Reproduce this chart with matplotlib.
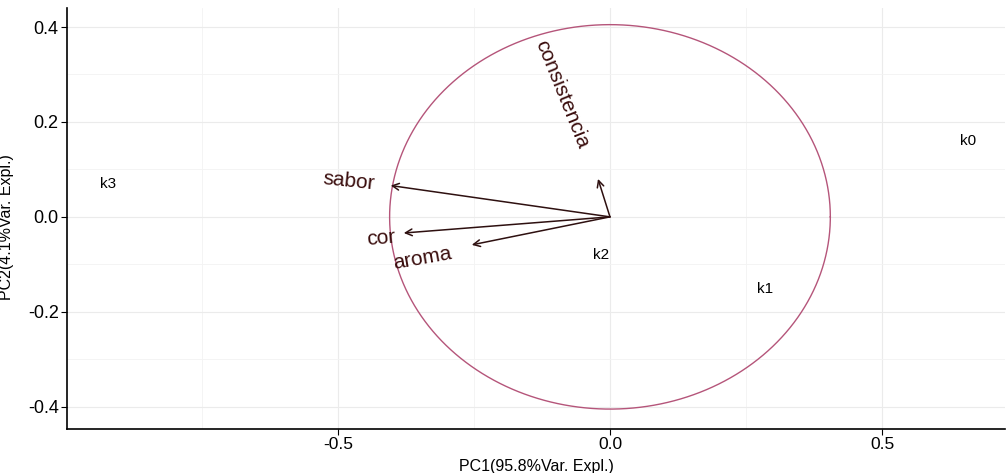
import numpy as np
import matplotlib.pyplot as plt
from matplotlib.ticker import MultipleLocator

plt.rcParams['font.family'] = ['Liberation Sans', 'DejaVu Sans']
plt.rcParams['axes.unicode_minus'] = False

# sample scores (PC1, PC2)
samples = ["k0", "k1", "k2", "k3"]
pc1_scores = [0.658, 0.285, -0.017, -0.923]
pc2_scores = [0.159, -0.152, -0.080, 0.070]

# variable loadings
variables = ["sabor", "cor", "aroma", "consistencia"]
load_pc1 = [-0.403, -0.379, -0.254, -0.022]
load_pc2 = [0.066, -0.034, -0.059, 0.080]

# label positions and rotations for the variables
label_x = [-0.480, -0.421, -0.344, -0.088]
label_y = [0.074, -0.045, -0.087, 0.258]
label_rot = [-6, 5, 10, -68]

radius = 0.405

fig = plt.figure(figsize=(10.07, 4.73), dpi=100)
ax = fig.add_axes([0.0665, 0.093, 0.9315, 0.89])

ax.set_xlim(-0.998, 0.726)
ax.set_ylim(-0.447, 0.44)

# grid
ax.xaxis.set_major_locator(MultipleLocator(0.5))
ax.xaxis.set_minor_locator(MultipleLocator(0.25))
ax.yaxis.set_major_locator(MultipleLocator(0.2))
ax.yaxis.set_minor_locator(MultipleLocator(0.1))
ax.grid(which='major', color='#ebebeb', linewidth=0.8)
ax.grid(which='minor', color='#f3f3f3', linewidth=0.6)
ax.tick_params(which='minor', length=0)
ax.set_axisbelow(True)

# correlation circle
t = np.linspace(0, 2 * np.pi, 400)
ax.plot(radius * np.cos(t), radius * np.sin(t), color='#b5557a', linewidth=1.0)

# sample labels
for name, x, y in zip(samples, pc1_scores, pc2_scores):
    ax.text(x, y, name, fontsize=11, ha='center', va='center', color='black')

# loading arrows
for name, x, y, lx, ly, r in zip(variables, load_pc1, load_pc2, label_x, label_y, label_rot):
    ax.annotate("", xy=(x, y), xytext=(0, 0),
                arrowprops=dict(arrowstyle='->', color='#2e1010', lw=1.1,
                                shrinkA=0, shrinkB=0, mutation_scale=12))
    ax.text(lx, ly, name, fontsize=15, ha='center', va='center',
            rotation=r, color='#3a0d0d', rotation_mode='anchor')

for s in ['top', 'right']:
    ax.spines[s].set_visible(False)
ax.spines['left'].set_linewidth(1.2)
ax.spines['bottom'].set_linewidth(1.2)
ax.tick_params(which='major', direction='out', length=4, pad=2)
ax.tick_params(axis='x', labelsize=12.5)
ax.tick_params(axis='y', labelsize=13)

ax.set_xlabel("PC1(95.8%Var. Expl.)", fontsize=11.5, labelpad=5)
ax.set_ylabel("PC2(4.1%Var. Expl.)", fontsize=11.5)
ax.yaxis.set_label_coords(-0.056, 0.48)

fig.savefig("out.png", dpi=100)
